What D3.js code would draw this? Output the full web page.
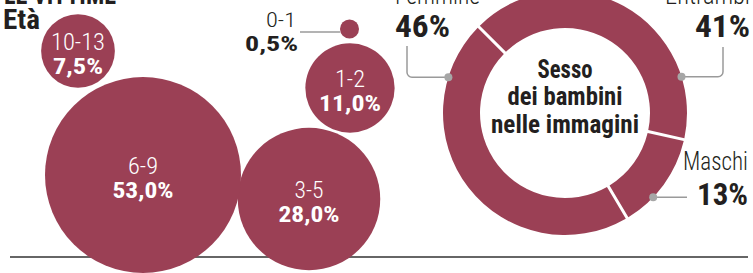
<!DOCTYPE html>
<html>
<head>
<meta charset="utf-8">
<script src="https://cdn.jsdelivr.net/npm/d3@7"></script>
<style>
  body { margin: 0; background: #fff; }
  svg { display: block; }
  text { font-family: "Roboto Condensed", "Liberation Sans Narrow", "Roboto", sans-serif; }
</style>
</head>
<body>
<svg width="753" height="273"></svg>
<script>
// age bubbles
var ages = ["0-1", "1-2", "3-5", "6-9", "10-13"];
var ageShares = [0.5, 11.0, 28.0, 53.0, 7.5];
var ageLabels = ["0,5%", "11,0%", "28,0%", "53,0%", "7,5%"];

// donut: sex of the children
var sexes = ["Entrambi", "Maschi", "Femmine"];
var sexShares = [41, 13, 46];
var sexLabels = ["41%", "13%", "46%"];

var maroon = "#9b4055";
var ink = "#231f20";

var svg = d3.select("svg");

// bubble placement (hand laid out like the paper graphic)
var spot = {
  "0-1":   [349.5, 29],
  "1-2":   [350, 88],
  "3-5":   [309, 199],
  "6-9":   [143, 175],
  "10-13": [78, 51]
};

var r = d3.scaleSqrt().domain([0, d3.max(ageShares)]).range([0, 98]);

// baseline rule
svg.append("line")
  .attr("x1", 10).attr("x2", 748)
  .attr("y1", 257).attr("y2", 257)
  .attr("stroke", "#333").attr("stroke-width", 1.5);

// title bits (cut at the top in the original)
svg.append("text").attr("x", 4).attr("y", 4)
  .attr("font-size", 28).attr("font-weight", 700).attr("fill", ink)
  .attr("textLength", 112).attr("lengthAdjust", "spacingAndGlyphs")
  .text("LE VITTIME");
svg.append("text").attr("x", 3).attr("y", 29)
  .attr("font-size", 27).attr("font-weight", 700).attr("fill", ink)
  .attr("textLength", 37).attr("lengthAdjust", "spacingAndGlyphs")
  .text("Età");

var bubbles = ages.map(function(a, i) {
  return { age: a, v: ageShares[i], lab: ageLabels[i], x: spot[a][0], y: spot[a][1] };
});

svg.append("g").selectAll("circle")
  .data(bubbles)
  .enter().append("circle")
  .attr("cx", function(d) { return d.x; })
  .attr("cy", function(d) { return d.y; })
  .attr("r", function(d) { return r(d.v); })
  .attr("fill", maroon);

// labels inside the bigger bubbles
var inside = bubbles.filter(function(d) { return d.v > 5; });
var rangeW = { "1-2": 30, "3-5": 29, "6-9": 30, "10-13": 54 };
var pctW = { "1-2": 62, "3-5": 61, "6-9": 61, "10-13": 50 };

var lg = svg.append("g").selectAll("g")
  .data(inside)
  .enter().append("g")
  .attr("transform", function(d) { return "translate(" + d.x + "," + d.y + ")"; });
lg.append("text")
  .attr("text-anchor", "middle").attr("y", -1)
  .attr("font-size", 23).attr("font-weight", 300).attr("fill", "#fff")
  .attr("textLength", function(d) { return rangeW[d.age]; })
  .attr("lengthAdjust", "spacingAndGlyphs")
  .text(function(d) { return d.age; });
lg.append("text")
  .attr("text-anchor", "middle").attr("y", 23)
  .attr("font-size", 22).attr("font-weight", 700).attr("fill", "#fff")
  .attr("textLength", function(d) { return pctW[d.age]; })
  .attr("lengthAdjust", "spacingAndGlyphs")
  .text(function(d) { return d.lab; });

// tiny 0-1 bubble gets an outside label
var tiny = bubbles[0];
svg.append("line")
  .attr("x1", 300).attr("x2", tiny.x - r(tiny.v))
  .attr("y1", tiny.y + 3).attr("y2", tiny.y + 3)
  .attr("stroke", "#9a9a9a").attr("stroke-width", 1.5);
svg.append("text").attr("x", 296).attr("y", 27)
  .attr("text-anchor", "end")
  .attr("font-size", 21).attr("font-weight", 300).attr("fill", ink)
  .attr("textLength", 30).attr("lengthAdjust", "spacingAndGlyphs")
  .text(tiny.age);
svg.append("text").attr("x", 298).attr("y", 51)
  .attr("text-anchor", "end")
  .attr("font-size", 21).attr("font-weight", 700).attr("fill", ink)
  .attr("textLength", 53).attr("lengthAdjust", "spacingAndGlyphs")
  .text(tiny.lab);

// donut
var cx = 565, cy = 113, rOut = 122, rIn = 85;
var pie = d3.pie().sort(null)
  .startAngle(-Math.PI / 4).endAngle(-Math.PI / 4 + 2 * Math.PI);
var arc = d3.arc().innerRadius(rIn).outerRadius(rOut)
  .padAngle(3 / Math.sqrt(rIn * rIn + rOut * rOut));
var donut = svg.append("g").attr("transform", "translate(" + cx + "," + cy + ")");
donut.selectAll("path")
  .data(pie(sexShares))
  .enter().append("path")
  .attr("d", arc)
  .attr("fill", maroon);

// center title
var mid = [["Sesso", 78, 55], ["dei bambini", 105, 115], ["nelle immagini", 133, 148]];
donut.selectAll("text.mid")
  .data(mid)
  .enter().append("text")
  .attr("class", "mid")
  .attr("text-anchor", "middle")
  .attr("y", function(d) { return d[1] - cy; })
  .attr("font-size", 25).attr("font-weight", 700).attr("fill", ink)
  .attr("textLength", function(d) { return d[2]; })
  .attr("lengthAdjust", "spacingAndGlyphs")
  .text(function(d) { return d[0]; });

// callouts: angle of dot on ring (deg, clockwise from top), leader, labels
var callout = {
  "Entrambi": { ang: 72.7, path: function(p, x, y) { p.lineTo(718, y); p.arcTo(723, y, 723, y - 5, 5); p.lineTo(723, 47); },
                name: [750, 4, "end", 85], pct: [750, 37, "end", 55] },
  "Maschi":   { ang: 133.7, path: function(p, x, y) { p.lineTo(687, y); },
                name: [748, 170, "end", 65], pct: [748, 205, "end", 51] },
  "Femmine":  { ang: 287.1, path: function(p, x, y) { p.lineTo(412, y); p.arcTo(407, y, 407, y - 5, 5); p.lineTo(407, 46); },
                name: [395, 4, "start", 85], pct: [395, 37, "start", 55] }
};

sexes.forEach(function(s, i) {
  var c = callout[s];
  var pt = d3.pointRadial(c.ang * Math.PI / 180, rOut);
  var x = cx + pt[0], y = cy + pt[1];
  var p = d3.path();
  p.moveTo(x, y);
  c.path(p, x, y);
  svg.append("path").attr("d", p.toString())
    .attr("fill", "none").attr("stroke", "#9a9a9a").attr("stroke-width", 1.5);
  svg.append("circle").attr("cx", x).attr("cy", y).attr("r", 4).attr("fill", "#a6a6a6");
  svg.append("text")
    .attr("x", c.name[0]).attr("y", c.name[1]).attr("text-anchor", c.name[2])
    .attr("font-size", 25).attr("font-weight", 300).attr("fill", ink)
    .attr("textLength", c.name[3]).attr("lengthAdjust", "spacingAndGlyphs")
    .text(s);
  svg.append("text")
    .attr("x", c.pct[0]).attr("y", c.pct[1]).attr("text-anchor", c.pct[2])
    .attr("font-size", 31).attr("font-weight", 700).attr("fill", ink)
    .attr("textLength", c.pct[3]).attr("lengthAdjust", "spacingAndGlyphs")
    .text(sexLabels[i]);
});
</script>
</body>
</html>
